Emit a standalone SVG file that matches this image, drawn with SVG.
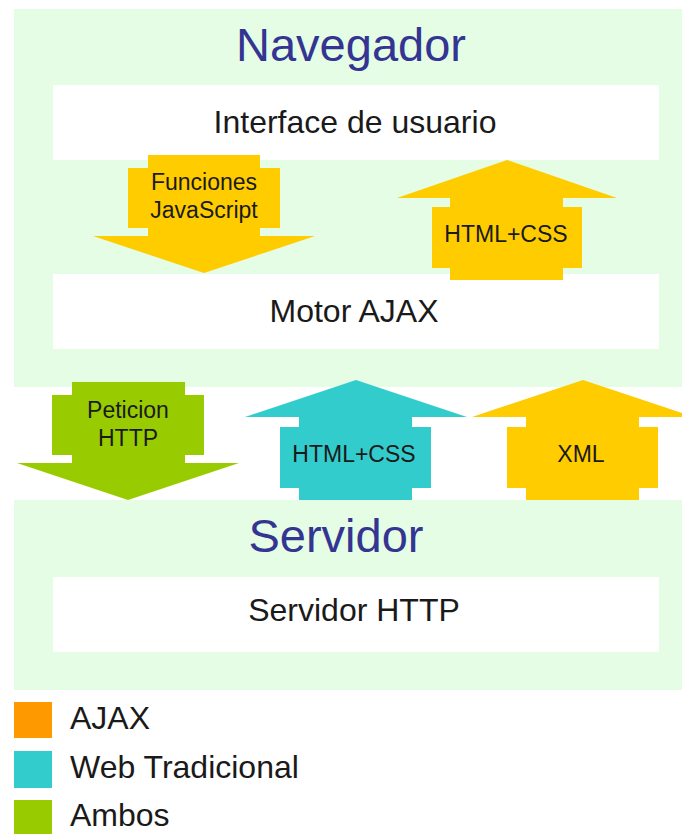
<svg xmlns="http://www.w3.org/2000/svg" width="682" height="834" viewBox="0 0 682 834">
<style>
.panel{fill:#e4fde4}
.box{fill:#ffffff}
.title{font-family:"Liberation Sans",Arial,sans-serif;font-size:47px;fill:#343492;text-anchor:middle}
.lbl{font-family:"Liberation Sans",Arial,sans-serif;font-size:32px;fill:#1a1a1a;text-anchor:middle}
.alb{font-family:"Liberation Sans",Arial,sans-serif;font-size:23px;fill:#1a1a1a;text-anchor:middle}
.leg{font-family:"Liberation Sans",Arial,sans-serif;font-size:32px;fill:#1a1a1a}
.yel{fill:#ffcc00}
.teal{fill:#33cccc}
.grn{fill:#99cc00}
.org{fill:#ff9900}
</style>
<rect width="682" height="834" fill="#ffffff"/>
<g id="navegador">
  <rect class="panel" x="14" y="9" width="668" height="378"/>
  <text class="title" x="351" y="61">Navegador</text>
</g>
<g id="interface">
  <rect class="box" x="53" y="85" width="606" height="75"/>
  <text class="lbl" x="355" y="133">Interface de usuario</text>
</g>
<g id="motor">
  <rect class="box" x="53" y="274" width="606" height="75"/>
  <text class="lbl" x="354" y="322">Motor AJAX</text>
</g>
<g id="servidor">
  <rect class="panel" x="14" y="500" width="668" height="190"/>
  <text class="title" x="336" y="552">Servidor</text>
</g>
<g id="servidor-http">
  <rect class="box" x="53" y="577" width="606" height="75"/>
  <text class="lbl" x="354" y="621">Servidor HTTP</text>
</g>
<g id="connectors">
  <g id="arrow-funciones">
    <path class="yel" d="M148,155 H260 V168 H280 V228 H260 V236 H315 L204,273 L93,236 H148 V228 H128 V168 H148 Z"/>
    <text class="alb" x="204" y="190">Funciones</text>
    <text class="alb" x="204" y="218">JavaScript</text>
  </g>
  <g id="arrow-htmlcss-top">
    <path class="yel" d="M507,160 L617,198 H563 V207 H582 V268 H563 V280 H450 V268 H432 V207 H450 V198 H397 Z"/>
    <text class="alb" x="506" y="242">HTML+CSS</text>
  </g>
  <g id="arrow-peticion">
    <path class="grn" d="M72,382 H185 V395 H204 V455 H185 V463 H239 L128,500 L17,463 H72 V455 H52 V395 H72 Z"/>
    <text class="alb" x="128" y="418">Peticion</text>
    <text class="alb" x="128" y="446">HTTP</text>
  </g>
  <g id="arrow-htmlcss-bottom">
    <path class="teal" d="M356,380 L467,417 H412 V427 H431 V488 H412 V500 H299 V488 H280 V427 H299 V417 H245 Z"/>
    <text class="alb" x="354" y="462">HTML+CSS</text>
  </g>
  <g id="arrow-xml">
    <path class="yel" d="M583,380 L694,417 H639 V427 H658 V488 H639 V500 H526 V488 H507 V427 H526 V417 H472 Z"/>
    <text class="alb" x="581" y="462">XML</text>
  </g>
</g>
<g id="legend">
  <rect class="org" x="14" y="702" width="38" height="36"/>
  <text class="leg" x="70" y="729">AJAX</text>
  <rect class="teal" x="14" y="751" width="38" height="37"/>
  <text class="leg" x="70" y="778">Web Tradicional</text>
  <rect class="grn" x="14" y="800" width="38" height="36"/>
  <text class="leg" x="70" y="826">Ambos</text>
</g>
</svg>
